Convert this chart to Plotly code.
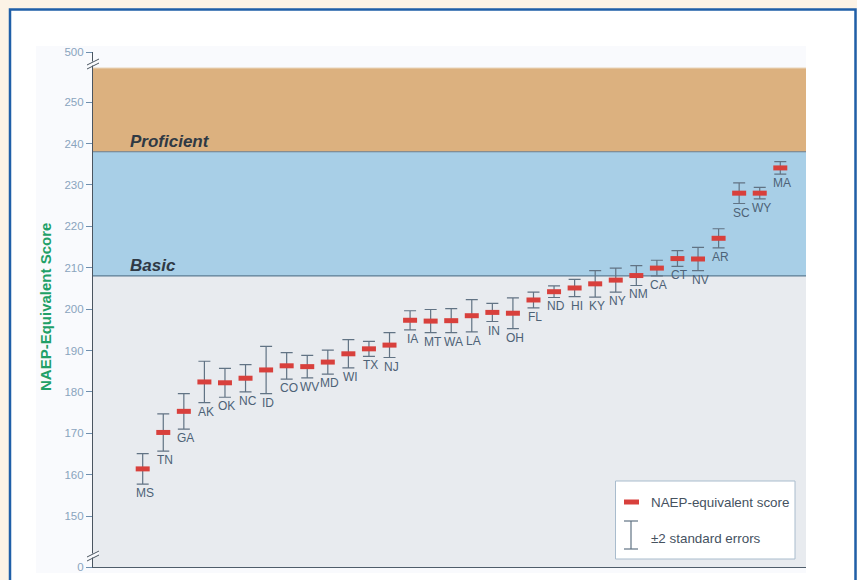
import plotly.graph_objects as go

# NAEP-equivalent reading scores by state, with +/- 2 standard errors
states = ["MS", "TN", "GA", "AK", "OK", "NC", "ID", "CO", "WV", "MD", "WI", "TX", "NJ",
          "IA", "MT", "WA", "LA", "IN", "OH", "FL", "ND", "HI", "KY", "NY", "NM",
          "CA", "CT", "NV", "AR", "SC", "WY", "MA"]
scores = [161.4, 170.2, 175.3, 182.4, 182.2, 183.3, 185.3, 186.3, 186.1, 187.2, 189.2, 190.4, 191.3,
          197.3, 197.1, 197.2, 198.4, 199.2, 199.0, 202.2, 204.2, 205.1, 206.1, 207.0, 208.1,
          209.9, 212.2, 212.1, 217.1, 228.0, 228.0, 234.1]
two_se = [3.7, 4.5, 4.3, 5.0, 3.5, 3.3, 5.7, 3.2, 2.7, 2.9, 3.4, 1.8, 3.0,
          2.3, 2.8, 2.9, 3.9, 2.2, 3.7, 1.9, 1.4, 2.1, 3.2, 2.9, 2.4,
          1.9, 1.9, 2.8, 2.3, 2.5, 1.4, 1.5]

# Achievement level cut points
basic_cut = 208
proficient_cut = 238

# y-axis tick values and their printed labels (axis is broken at both ends)
y_bottom, y_top, band_top = 137.7, 262.1, 258.2
tick_vals = [y_bottom, 150, 160, 170, 180, 190, 200, 210, 220, 230, 240, 250, y_top]
tick_text = ["0", "150", "160", "170", "180", "190", "200", "210", "220", "230", "240", "250", "500"]

W, H = 857, 580
L, R, T, B = 93, 806, 52, 567


def px(x):
    return (x - L) / (R - L)


def py(y):
    return (B - y) / (B - T)


xs = list(range(len(states)))

fig = go.Figure()
fig.add_trace(go.Scatter(
    x=xs, y=scores, mode="markers",
    marker=dict(symbol="line-ew", size=10, color="#d8403c",
                line=dict(width=5, color="#d8403c")),
    error_y=dict(type="data", array=two_se, visible=True,
                 color="#617384", thickness=1.2, width=6),
    showlegend=False, hoverinfo="skip",
))

shapes = []
# page frame
shapes.append(dict(type="rect", xref="paper", yref="paper", layer="below",
                   x0=px(10), x1=px(855.5), y0=py(9.5), y1=py(620),
                   fillcolor="white", line=dict(color="#1f5fa8", width=2.5)))
shapes.append(dict(type="rect", xref="paper", yref="paper", layer="below",
                   x0=px(36), x1=px(806), y0=py(46), y1=py(573),
                   fillcolor="#f9fafd", line=dict(width=0)))
# achievement bands
shapes.append(dict(type="rect", xref="paper", yref="y", layer="below",
                   x0=0, x1=1, y0=y_bottom, y1=basic_cut,
                   fillcolor="#e8ebef", line=dict(width=0)))
shapes.append(dict(type="rect", xref="paper", yref="y", layer="below",
                   x0=0, x1=1, y0=basic_cut, y1=proficient_cut,
                   fillcolor="#a8cfe7", line=dict(width=0)))
shapes.append(dict(type="rect", xref="paper", yref="y", layer="below",
                   x0=0, x1=1, y0=proficient_cut, y1=band_top,
                   fillcolor="#dcb17f", line=dict(width=0)))
shapes.append(dict(type="line", xref="paper", yref="y", layer="below",
                   x0=0, x1=1, y0=basic_cut, y1=basic_cut,
                   line=dict(color="#5c7d93", width=1.2)))
shapes.append(dict(type="line", xref="paper", yref="y", layer="below",
                   x0=0, x1=1, y0=proficient_cut, y1=proficient_cut,
                   line=dict(color="#6a7d8c", width=1.2)))
shapes.append(dict(type="line", xref="paper", yref="y", layer="below",
                   x0=0, x1=1, y0=band_top, y1=band_top,
                   line=dict(color="#e3c49d", width=1)))

# axis break marks
for yc in (63, 555):
    shapes.append(dict(type="path", xref="paper", yref="paper", layer="above",
                       path=f"M {px(88)},{py(yc + 1)} L {px(99)},{py(yc - 5)} "
                            f"L {px(99)},{py(yc - 1)} L {px(88)},{py(yc + 5)} Z",
                       fillcolor="#f9fafd", line=dict(width=0)))
    for dy in (3, -1):
        shapes.append(dict(type="line", xref="paper", yref="paper", layer="above",
                           x0=px(87), x1=px(99), y0=py(yc + dy + 3), y1=py(yc + dy - 3),
                           line=dict(color="#4a5560", width=1)))

# legend box
shapes.append(dict(type="rect", xref="paper", yref="paper", layer="above",
                   x0=px(615.5), x1=px(795), y0=py(481), y1=py(559),
                   fillcolor="white", line=dict(color="#a9bccd", width=1)))
shapes.append(dict(type="line", xref="paper", yref="paper", layer="above",
                   x0=px(624), x1=px(639), y0=py(502), y1=py(502),
                   line=dict(color="#d8403c", width=5)))
shapes.append(dict(type="line", xref="paper", yref="paper", layer="above",
                   x0=px(631), x1=px(631), y0=py(521), y1=py(549),
                   line=dict(color="#617384", width=1.2)))
for yy in (521, 549):
    shapes.append(dict(type="line", xref="paper", yref="paper", layer="above",
                       x0=px(624), x1=px(638), y0=py(yy), y1=py(yy),
                       line=dict(color="#617384", width=1.2)))

annotations = []
for i, (s, v, e) in enumerate(zip(states, scores, two_se)):
    annotations.append(dict(x=i, y=v - e, xref="x", yref="y", text=s, showarrow=False,
                            yanchor="top", xanchor="center", xshift=2, yshift=0,
                            font=dict(family="Liberation Sans", size=12, color="#4d6276")))

annotations.append(dict(x=px(128), y=proficient_cut, xref="paper", yref="y",
                        text="<b><i>Proficient</i></b>", showarrow=False,
                        xanchor="left", yanchor="bottom", yshift=-1,
                        font=dict(family="Liberation Sans", size=17, color="#2f3944")))
annotations.append(dict(x=px(128), y=basic_cut, xref="paper", yref="y",
                        text="<b><i>Basic</i></b>", showarrow=False,
                        xanchor="left", yanchor="bottom", yshift=-1,
                        font=dict(family="Liberation Sans", size=17, color="#2f3944")))
annotations.append(dict(x=px(45), y=py(307), xref="paper", yref="paper",
                        text="<b>NAEP-Equivalent Score</b>", textangle=-90, showarrow=False,
                        xanchor="center", yanchor="middle",
                        font=dict(family="Liberation Sans", size=15, color="#21a067")))
annotations.append(dict(x=px(649), y=py(502), xref="paper", yref="paper",
                        text="NAEP-equivalent score", showarrow=False,
                        xanchor="left", yanchor="middle",
                        font=dict(family="Liberation Sans", size=13.4, color="#45525f")))
annotations.append(dict(x=px(649), y=py(538), xref="paper", yref="paper",
                        text="±2 standard errors", showarrow=False,
                        xanchor="left", yanchor="middle",
                        font=dict(family="Liberation Sans", size=13.4, color="#45525f")))

first_x, last_x = 142.7, 780.3
step = (last_x - first_x) / (len(states) - 1)
x_range = [(L - first_x) / step, (len(states) - 1) + (R - last_x) / step]

fig.update_layout(
    width=W, height=H,
    margin=dict(l=L, r=W - R, t=T, b=H - B, pad=0, autoexpand=False),
    paper_bgcolor="#fcf3e6",
    plot_bgcolor="rgba(0,0,0,0)",
    shapes=shapes,
    annotations=annotations,
    xaxis=dict(range=x_range, showgrid=False, zeroline=False, showticklabels=False,
               ticks="", showline=True, linecolor="#4f5d6a", linewidth=1.2,
               automargin=False, fixedrange=True),
    yaxis=dict(range=[y_bottom, y_top], tickvals=tick_vals, ticktext=tick_text,
               showgrid=False, zeroline=False, ticks="outside", ticklen=6,
               tickcolor="#6f8fae", tickwidth=1.2, showline=True,
               linecolor="#4a5560", linewidth=1.2, automargin=False,
               tickfont=dict(family="Liberation Sans", size=11.5, color="#8aa4bd"),
               fixedrange=True),
    showlegend=False,
)

fig.write_html("out.html")
